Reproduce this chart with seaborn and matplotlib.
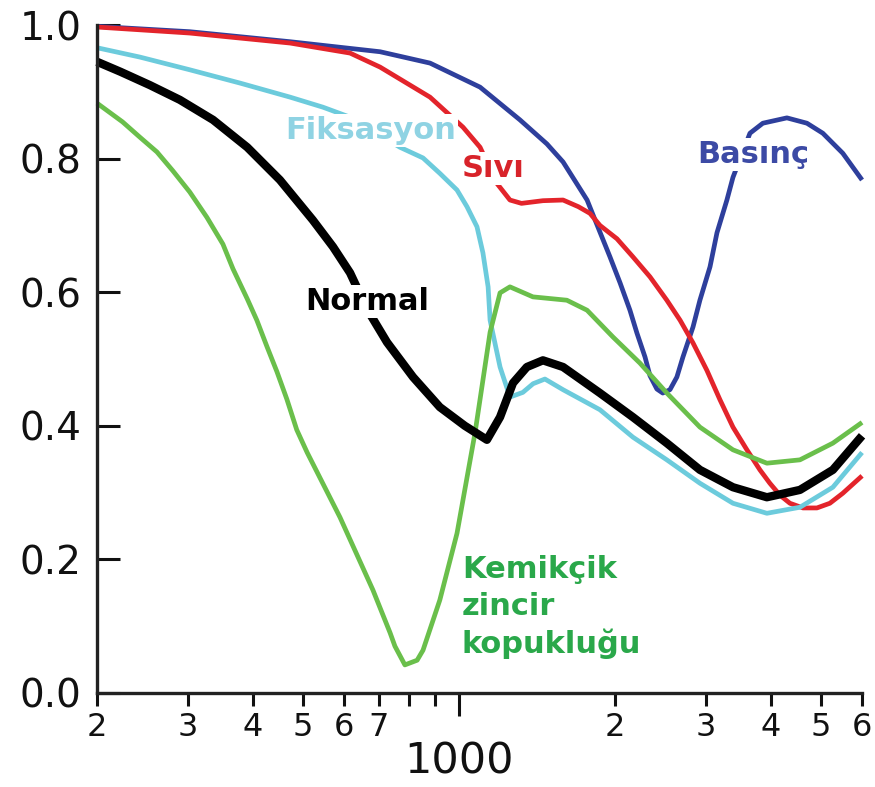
import matplotlib
matplotlib.use("Agg")
import matplotlib.pyplot as plt
import seaborn as sns

# ---- data (frequency in Hz, normalised value) ----
normal_f = [200, 222, 253, 289, 335, 390, 451, 522, 571, 616, 664, 726, 815, 918,
            1026, 1132, 1200, 1271, 1352, 1452, 1588, 1871, 2166, 2519, 2918, 3380,
            3930, 4552, 5270, 6000]
normal_v = [0.945, 0.930, 0.910, 0.888, 0.858, 0.817, 0.768, 0.708, 0.668, 0.629, 0.575, 0.525, 0.473, 0.428,
            0.400, 0.379, 0.413, 0.464, 0.488, 0.498, 0.488, 0.449, 0.413, 0.374, 0.334, 0.308,
            0.293, 0.304, 0.334, 0.385]

fiks_f = [200, 242, 302, 378, 472, 546, 616, 769, 852, 918, 991, 1036, 1083, 1112, 1138, 1148, 1200,
          1254, 1328, 1390, 1465, 1588, 1871, 2166, 2519, 2918, 3380, 3930, 4552, 5270, 6000]
fiks_v = [0.966, 0.952, 0.933, 0.913, 0.892, 0.877, 0.862, 0.817, 0.801, 0.778, 0.753, 0.728, 0.698, 0.659, 0.608, 0.558, 0.488,
          0.443, 0.450, 0.463, 0.470, 0.454, 0.424, 0.383, 0.349, 0.314, 0.284, 0.269, 0.278, 0.308, 0.360]

sivi_f = [200, 302, 472, 616, 704, 879, 1018, 1098, 1183, 1254, 1320, 1452, 1588, 1700, 1790,
          1871, 2018, 2166, 2337, 2519, 2672, 2830, 3010, 3190, 3380, 3596, 3810, 3982, 4166,
          4354, 4614, 4910, 5200, 5508, 6000]
sivi_v = [0.997, 0.988, 0.973, 0.958, 0.937, 0.892, 0.847, 0.817, 0.763, 0.738, 0.733, 0.737, 0.738, 0.728, 0.718,
          0.700, 0.680, 0.653, 0.623, 0.588, 0.558, 0.524, 0.483, 0.439, 0.398, 0.364, 0.334, 0.314, 0.296,
          0.284, 0.277, 0.277, 0.284, 0.299, 0.325]

basinc_f = [200, 302, 472, 704, 879, 1098, 1311, 1478, 1588, 1767, 1871, 1956, 2046, 2138, 2205,
            2286, 2337, 2410, 2474, 2554, 2634, 2706, 2830, 2918, 3052, 3148, 3290, 3380, 3645,
            3860, 4296, 4696, 5040, 5508, 6000]
basinc_v = [0.998, 0.990, 0.975, 0.960, 0.943, 0.907, 0.858, 0.822, 0.795, 0.738, 0.690, 0.653, 0.614, 0.573, 0.539,
            0.503, 0.475, 0.455, 0.449, 0.454, 0.473, 0.503, 0.548, 0.588, 0.638, 0.689, 0.738, 0.772, 0.838,
            0.853, 0.861, 0.853, 0.838, 0.808, 0.768]

kemik_f = [200, 224, 242, 261, 280, 302, 326, 350, 366, 390, 407, 426, 445, 465, 486, 509, 589, 682,
           736, 752, 786, 830, 852, 918, 991, 1074, 1148, 1200, 1254, 1389, 1615, 1767, 1982, 2234,
           2519, 2918, 3380, 3930, 4552, 5270, 6000]
kemik_v = [0.883, 0.855, 0.832, 0.810, 0.782, 0.750, 0.712, 0.672, 0.635, 0.590, 0.558, 0.518, 0.481, 0.440, 0.394, 0.360, 0.263, 0.154,
           0.090, 0.070, 0.042, 0.049, 0.064, 0.139, 0.239, 0.390, 0.540, 0.599, 0.608, 0.593, 0.588, 0.573, 0.533, 0.494,
           0.449, 0.398, 0.364, 0.344, 0.349, 0.374, 0.405]

x_major = [200, 300, 400, 500, 600, 700, 800, 900, 2000, 3000, 4000, 5000, 6000]
x_major_labels = ["2", "3", "4", "5", "6", "7", "", "", "2", "3", "4", "5", "6"]
y_ticks = [0.0, 0.2, 0.4, 0.6, 0.8, 1.0]
y_tick_labels = ["0.0", "0.2", "0.4", "0.6", "0.8", "1.0"]

# ---- style ----
sns.set_style("ticks")
plt.rcParams["font.family"] = ["DejaVu Sans"]

fig = plt.figure(figsize=(8.75, 7.87), dpi=100)
ax = fig.add_axes([0.1109, 0.1195, 0.8743, 0.8487])

series = [
    (basinc_f, basinc_v, "#2e3f9c", 3.4),
    (sivi_f, sivi_v, "#e3242b", 3.4),
    (fiks_f, fiks_v, "#6ccbdc", 3.4),
    (kemik_f, kemik_v, "#6abf4b", 3.4),
    (normal_f, normal_v, "#000000", 6.0),
]
for f, v, c, lw in series:
    sns.lineplot(x=f, y=v, color=c, linewidth=lw, ax=ax, estimator=None, sort=False)
for ln in ax.lines:
    ln.set_clip_on(False)
    ln.set_solid_joinstyle("round")
    ln.set_solid_capstyle("butt")

ax.set_xscale("log")
ax.set_xlim(200, 6000)
ax.set_ylim(0, 1.0)
ax.set_xticks(x_major, labels=x_major_labels)
ax.set_xticks([1000], labels=["1000"], minor=True)
ax.set_yticks(y_ticks, labels=y_tick_labels)

for s in ["top", "right"]:
    ax.spines[s].set_visible(False)
for s in ["left", "bottom"]:
    ax.spines[s].set_color("#222222")
    ax.spines[s].set_linewidth(2.4)

ax.tick_params(axis="y", direction="in", length=16.5, width=2.2, labelsize=28, pad=11, colors="#111111")
ax.tick_params(axis="x", which="major", direction="out", length=9.5, width=2.2, labelsize=23, pad=4,
               colors="#111111")
ax.tick_params(axis="x", which="minor", direction="out", length=16.5, width=2.2, labelsize=31, pad=18,
               colors="#111111")
ax.set_xlabel("")
ax.set_ylabel("")

# ---- curve labels ----
box = dict(facecolor="white", edgecolor="none", pad=1.5)
lab = dict(transform=ax.transAxes, fontsize=22, fontweight="bold", va="baseline", ha="left", zorder=10)
ax.text(0.2458, 0.829, "Fiksasyon", color="#8fd3e3", bbox=box, **lab)
ax.text(0.477, 0.772, "Sıvı", color="#d8232a", bbox=box, **lab)
ax.text(0.784, 0.793, "Basınç", color="#3c4aa5", bbox=box, **lab)
ax.text(0.272, 0.573, "Normal", color="#000000", bbox=box, **lab)
ax.text(0.477, 0.206, "Kemikçik\nzincir\nkopukluğu", color="#2aa84a", transform=ax.transAxes,
        fontsize=22, fontweight="bold", va="top", ha="left", linespacing=1.32, zorder=10)

fig.savefig("out.png", dpi=100, facecolor="white")
